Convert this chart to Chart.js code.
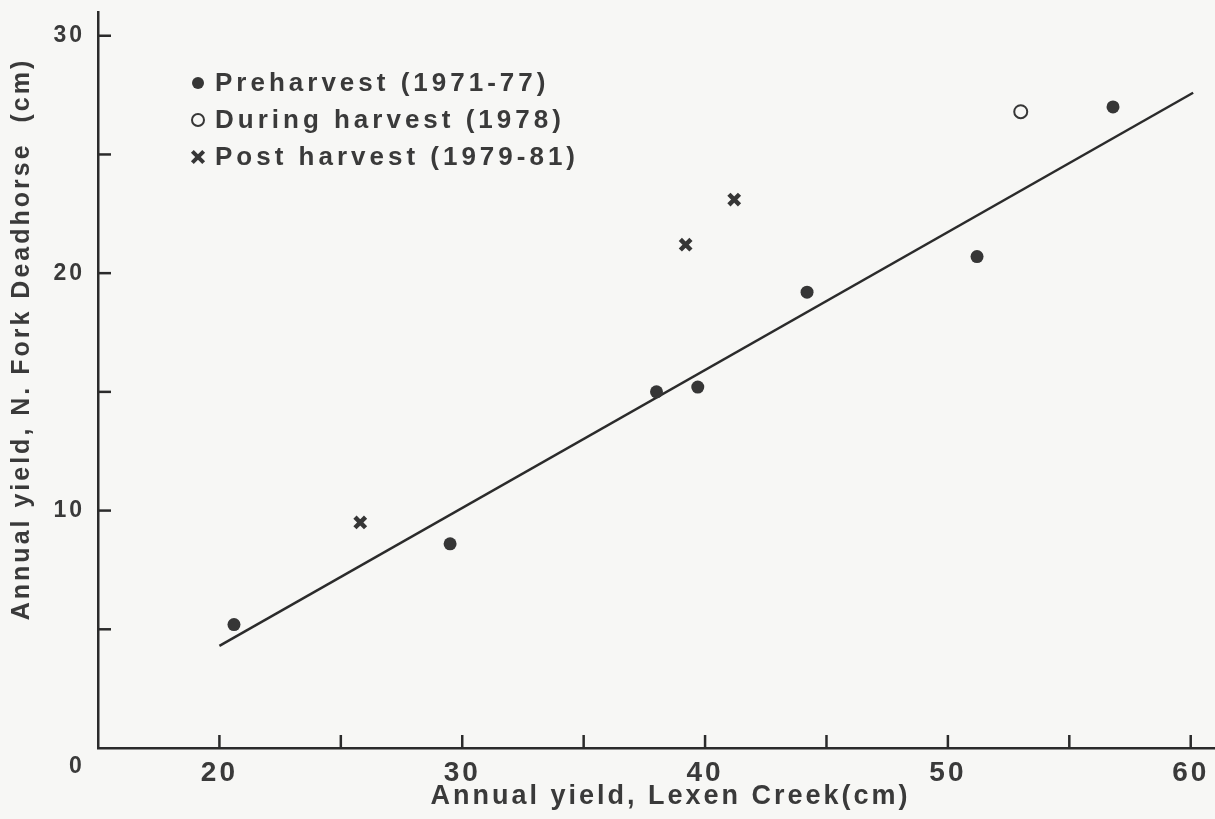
<!DOCTYPE html>
<html><head><meta charset="utf-8">
<script src="https://cdn.jsdelivr.net/npm/chart.js@4.4.1/dist/chart.umd.min.js"></script>
<style>
html,body{margin:0;padding:0;background:#f7f7f5;}
#wrap{position:relative;width:1215px;height:819px;overflow:hidden;}
#legend{position:absolute;left:190px;top:64px;font-family:"Liberation Sans",Arial,sans-serif;font-weight:bold;font-size:26px;letter-spacing:4px;color:#3a3a3a;}
.item{height:37px;display:flex;align-items:center;white-space:nowrap;}
.box{width:16px;height:16px;position:relative;flex:none;}
.mk-fill{position:absolute;left:2px;top:2px;width:12px;height:12px;border-radius:50%;background:#363636;}
.mk-open{position:absolute;left:1px;top:1px;width:14px;height:14px;border-radius:50%;border:2px solid #363636;box-sizing:border-box;}
.mk-cross::before,.mk-cross::after{content:"";position:absolute;left:6px;top:0;width:4px;height:16px;background:#363636;}
.mk-cross::before{transform:rotate(45deg);}
.mk-cross::after{transform:rotate(-45deg);}
.txt{margin-left:9px;}
</style>
</head><body>
<div id="wrap"><canvas id="c"></canvas><div id="legend"></div></div>
<script>
// ---- data ----
const preharvestX = [20.6, 29.5, 38.0, 39.7, 44.2, 51.2, 56.8];
const preharvestY = [5.2, 8.6, 15.0, 15.2, 19.2, 20.7, 27.0];
const duringX = [53.0];
const duringY = [26.8];
const postX = [25.8, 39.2, 41.2];
const postY = [9.5, 21.2, 23.1];
const fitX = [20, 60.1];
const fitY = [4.3, 27.6];
const xTickValues = [20, 25, 30, 35, 40, 45, 50, 55, 60];
const yTickValues = [0, 5, 10, 15, 20, 25, 30];
const xTickLabels = [20, 30, 40, 50, 60];
const yTickLabels = [10, 20, 30];
const seriesLabels = ['Preharvest (1971-77)', 'During harvest (1978)', 'Post harvest (1979-81)'];
const xTitle = 'Annual yield, Lexen Creek(cm)';
const yTitle = 'Annual yield, N. Fork Deadhorse  (cm)';
const originLabel = '0';

const ink = '#363636';
const axisInk = '#2b2b2b';
const FONT = '"Liberation Sans", Arial, sans-serif';
const pts = (xs, ys) => xs.map((x, i) => ({x, y: ys[i]}));

const spacing = {
  id: 'spacing',
  beforeUpdate(chart){ chart.ctx.letterSpacing = '3px'; },
  beforeDraw(chart){
    const {ctx, width, height} = chart;
    ctx.letterSpacing = '3px';
    ctx.save(); ctx.fillStyle = '#f7f7f5'; ctx.fillRect(0, 0, width, height); ctx.restore();
  }
};

const extras = {
  id: 'extras',
  afterDraw(chart){
    const {ctx, chartArea: a, scales: {x, y}} = chart;
    ctx.save();
    ctx.letterSpacing = '3px';
    ctx.strokeStyle = axisInk; ctx.lineWidth = 2.5;
    x.ticks.forEach(t => {
      if (t.value > x.min) {
        const px = x.getPixelForValue(t.value);
        ctx.beginPath(); ctx.moveTo(px, a.bottom); ctx.lineTo(px, a.bottom - 13); ctx.stroke();
      }
    });
    y.ticks.forEach(t => {
      if (t.value > y.min) {
        const py = y.getPixelForValue(t.value);
        ctx.beginPath(); ctx.moveTo(a.left, py); ctx.lineTo(a.left + 13, py); ctx.stroke();
      }
    });
    ctx.fillStyle = '#3a3a3a';
    ctx.textAlign = 'center'; ctx.textBaseline = 'middle';
    ctx.font = 'bold 23px ' + FONT;
    ctx.fillText(originLabel, a.left - 21, a.bottom + 19);
    ctx.font = 'bold 27px ' + FONT;
    ctx.fillText(xTitle, (a.left + a.right) / 2 + 14, a.bottom + 49);
    ctx.translate(22, (a.top + a.bottom) / 2 - 41);
    ctx.rotate(-Math.PI / 2);
    ctx.font = 'bold 25px ' + FONT;
    ctx.fillText(yTitle, 0, 0);
    ctx.restore();
  }
};

const chart = new Chart(document.getElementById('c'), {
  type: 'scatter',
  data: {
    datasets: [
      {label: seriesLabels[0], data: pts(preharvestX, preharvestY), pointStyle: 'circle', pointRadius: 6.5,
       backgroundColor: ink, borderColor: ink, borderWidth: 0, marker: 'fill'},
      {label: seriesLabels[1], data: pts(duringX, duringY), pointStyle: 'circle', pointRadius: 6.5,
       backgroundColor: 'rgba(0,0,0,0)', borderColor: ink, borderWidth: 2, marker: 'open'},
      {label: seriesLabels[2], data: pts(postX, postY), pointStyle: 'crossRot', pointRadius: 7.5,
       backgroundColor: ink, borderColor: ink, borderWidth: 4.5, marker: 'cross'},
      {label: 'fit', data: pts(fitX, fitY), showLine: true, pointRadius: 0, borderColor: axisInk,
       borderWidth: 2.5, fill: false}
    ]
  },
  options: {
    responsive: true, maintainAspectRatio: false, animation: false,
    events: [],
    layout: {autoPadding: false, padding: {top: 12, right: 0, left: 0, bottom: 0}},
    plugins: {legend: {display: false}, tooltip: {enabled: false}},
    scales: {
      x: {
        type: 'linear', min: 15, max: 61, position: 'bottom',
        grid: {display: false, drawTicks: false},
        border: {display: true, color: axisInk, width: 2.5},
        afterBuildTicks: s => { s.ticks = xTickValues.map(v => ({value: v})); },
        ticks: {autoSkip: false, maxRotation: 0, padding: 8, color: '#3a3a3a',
          font: {family: FONT, size: 28, weight: 'bold'},
          callback: v => xTickLabels.includes(v) ? String(v) : ''},
        afterFit: s => { s.height = 71; s.paddingRight = 0; s.paddingLeft = 0; }
      },
      y: {
        type: 'linear', min: 0, max: 31,
        grid: {display: false, drawTicks: false},
        border: {display: true, color: axisInk, width: 2.5},
        afterBuildTicks: s => { s.ticks = yTickValues.map(v => ({value: v})); },
        ticks: {autoSkip: false, padding: 13, color: '#3a3a3a',
          font: {family: FONT, size: 23, weight: 'bold'},
          callback: v => yTickLabels.includes(v) ? String(v) : ''},
        afterFit: s => { s.width = 98; s.paddingTop = 0; s.paddingBottom = 0; }
      }
    }
  },
  plugins: [spacing, extras]
});

// legend built from the chart's datasets
const leg = document.getElementById('legend');
chart.data.datasets.filter(d => d.marker).forEach(d => {
  const item = document.createElement('div'); item.className = 'item';
  const box = document.createElement('span'); box.className = 'box';
  const mk = document.createElement('span');
  mk.className = d.marker === 'fill' ? 'mk-fill' : d.marker === 'open' ? 'mk-open' : 'box mk-cross';
  box.appendChild(mk);
  const t = document.createElement('span'); t.className = 'txt'; t.textContent = d.label;
  item.appendChild(box); item.appendChild(t); leg.appendChild(item);
});
</script>
</body></html>
